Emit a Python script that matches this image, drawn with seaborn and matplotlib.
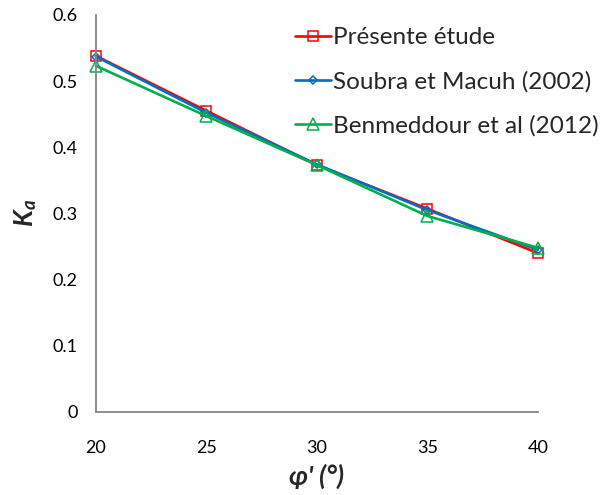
import matplotlib
matplotlib.use("Agg")
import matplotlib.pyplot as plt
import seaborn as sns
import pandas as pd

# Angle de frottement (degrés)
phi = [20, 25, 30, 35, 40]

# Coefficient de poussée active Ka
ka_presente = [0.538, 0.455, 0.373, 0.307, 0.240]
ka_soubra = [0.537, 0.452, 0.374, 0.305, 0.245]
ka_benmeddour = [0.523, 0.447, 0.373, 0.296, 0.248]

series_names = ["Présente étude", "Soubra et Macuh (2002)", "Benmeddour et al (2012)"]
series_values = [ka_presente, ka_soubra, ka_benmeddour]

x_ticks = [20, 25, 30, 35, 40]
y_ticks = [0, 0.1, 0.2, 0.3, 0.4, 0.5, 0.6]

sns.set_theme(style="white")
plt.rcParams["font.family"] = ["Lato", "DejaVu Sans"]
plt.rcParams["mathtext.fontset"] = "custom"
plt.rcParams["mathtext.bfit"] = "Lato:italic:bold"
plt.rcParams["mathtext.it"] = "Lato:italic"
plt.rcParams["mathtext.bf"] = "Lato:bold"
plt.rcParams["mathtext.rm"] = "Lato"

fig = plt.figure(figsize=(6.07, 4.95), dpi=100)
ax = fig.add_axes([0.158, 0.168, 0.728, 0.802])

styles = [
    dict(color="#FF0000", marker="s", markersize=7.5),
    dict(color="#0070C0", marker="D", markersize=4),
    dict(color="#00B050", marker="^", markersize=8),
]

frames = []
for name, vals in zip(series_names, series_values):
    frames.append(pd.DataFrame({"phi": phi, "Ka": vals, "serie": name}))
df = pd.concat(frames, ignore_index=True)

for name, st in zip(series_names, styles):
    sub = df[df["serie"] == name]
    sns.lineplot(
        data=sub, x="phi", y="Ka", ax=ax, label=name,
        color=st["color"], marker=st["marker"], markersize=st["markersize"],
        markerfacecolor="none", markeredgecolor=st["color"],
        markeredgewidth=1.1, linewidth=1.9,
    )

ax.set_xlim(20, 40)
ax.set_ylim(0, 0.6)
ax.set_xticks(x_ticks)
ax.set_xticklabels([str(t) for t in x_ticks])
ax.set_yticks(y_ticks)
ax.set_yticklabels(["0", "0.1", "0.2", "0.3", "0.4", "0.5", "0.6"])

for side in ["top", "right"]:
    ax.spines[side].set_visible(False)
for side in ["left", "bottom"]:
    ax.spines[side].set_color("#868686")
    ax.spines[side].set_linewidth(1.3)
ax.tick_params(axis="both", which="major", direction="out", length=5, width=1.2,
               color="#868686", labelsize=13, labelcolor="black")
ax.tick_params(axis="y", pad=8)
ax.tick_params(axis="x", pad=15)
for line in ax.lines:
    line.set_clip_on(False)

ax.set_xlabel("φ' (°)", fontsize=19, fontweight="bold", style="italic", labelpad=6)
ax.set_ylabel(r"$\mathbfit{K}_{\mathbfit{a}}$", fontsize=19, labelpad=10)

leg = ax.legend(loc="upper left", bbox_to_anchor=(295 / 607, 1 - 27 / 495),
                bbox_transform=fig.transFigure, frameon=False,
                fontsize=17.5, handlelength=1.5, handletextpad=0.08,
                labelspacing=0.94, borderaxespad=0.0, borderpad=0.0)

fig.savefig("out.png", dpi=100)
